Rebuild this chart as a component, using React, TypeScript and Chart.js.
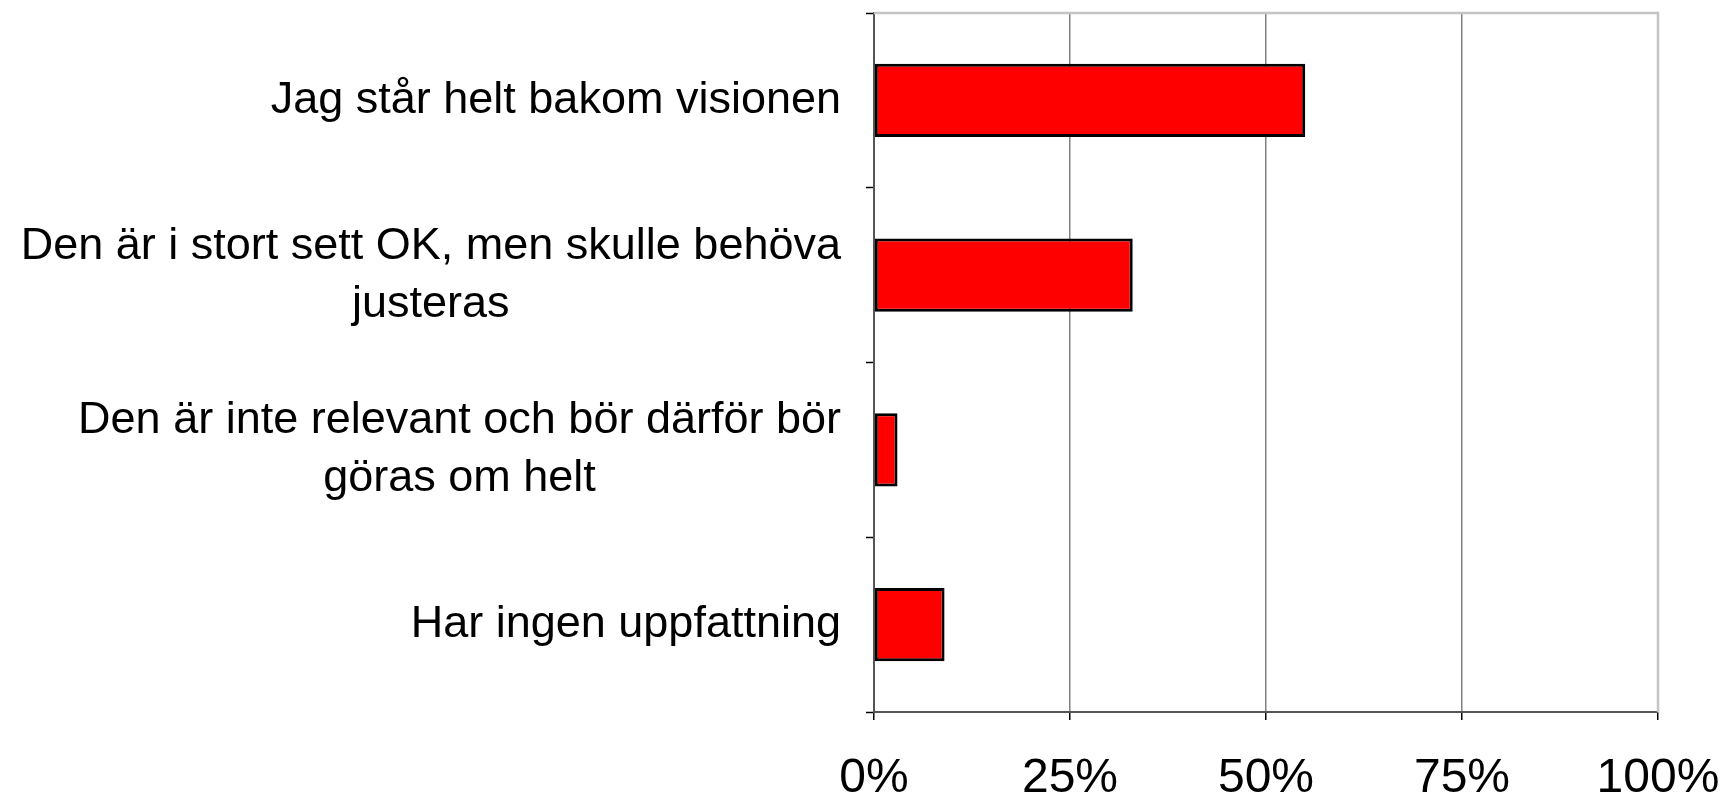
import React, { useEffect, useRef } from "react";
import { Chart, registerables } from "chart.js";

Chart.register(...registerables);

const categories: string[][] = [
  ["Jag står helt bakom visionen"],
  ["Den är i stort sett OK, men skulle behöva", "justeras"],
  ["Den är inte relevant och bör därför bör", "göras om helt"],
  ["Har ingen uppfattning"],
];
const values: number[] = [55, 33, 3, 9];
const xTicks: number[] = [0, 25, 50, 75, 100];

const FONT = '"Liberation Sans", Arial, sans-serif';

const borderPlugin = {
  id: "plotBorder",
  beforeDatasetsDraw(chart: any) {
    const { ctx, chartArea } = chart;
    ctx.save();
    ctx.strokeStyle = "#c4c4c4";
    ctx.lineWidth = 2.5;
    ctx.beginPath();
    ctx.moveTo(chartArea.left, chartArea.top);
    ctx.lineTo(chartArea.right, chartArea.top);
    ctx.lineTo(chartArea.right, chartArea.bottom);
    ctx.stroke();
    ctx.restore();
  },
};

const labelPlugin = {
  id: "catLabels",
  afterDraw(chart: any) {
    const { ctx } = chart;
    const yScale = chart.scales.y;
    const rightEdge = 841;
    const lineH = 58;
    ctx.save();
    ctx.font = `45px ${FONT}`;
    ctx.fillStyle = "#000";
    ctx.textAlign = "center";
    ctx.textBaseline = "middle";
    categories.forEach((lines, i) => {
      const yc = yScale.getPixelForValue(i);
      const maxW = Math.max(...lines.map((l) => ctx.measureText(l).width));
      const cx = rightEdge - maxW / 2;
      lines.forEach((l, j) => {
        ctx.fillText(l, cx, yc + (j - (lines.length - 1) / 2) * lineH);
      });
    });
    ctx.restore();
  },
};

export default function App() {
  const ref = useRef<HTMLCanvasElement>(null);
  useEffect(() => {
    if (!ref.current) return;
    const chart = new Chart(ref.current, {
      type: "bar",
      data: {
        labels: categories.map((c) => c.join(" ")),
        datasets: [
          {
            data: values,
            backgroundColor: "#ff0000",
            borderColor: "#000000",
            borderWidth: 3,
            borderSkipped: false,
            barPercentage: 0.42,
            categoryPercentage: 1,
          },
        ],
      },
      options: {
        indexAxis: "y",
        animation: false,
        responsive: false,
        layout: { padding: { left: 866, right: 65, top: 13, bottom: 0 } },
        plugins: { legend: { display: false }, tooltip: { enabled: false } },
        scales: {
          x: {
            min: 0,
            max: 100,
            afterBuildTicks: (scale: any) => {
              scale.ticks = xTicks.map((v) => ({ value: v }));
            },
            afterFit: (scale: any) => {
              scale.height = 84;
              scale.paddingRight = 0;
              scale.paddingLeft = 0;
            },
            border: { color: "#555", width: 2 },
            grid: {
              color: (c: any) => (c.tick && c.tick.value === 100 ? "rgba(0,0,0,0)" : "#808080"),
              lineWidth: 1.5,
              tickColor: "#000",
              tickLength: 8,
              tickWidth: 1.5,
            },
            ticks: {
              color: "#000",
              font: { family: FONT, size: 48 },
              padding: 30,
              maxRotation: 0,
              callback: (v: any) => `${v}%`,
            },
          },
          y: {
            afterFit: (scale: any) => {
              scale.width = 8;
            },
            border: { color: "#555", width: 2 },
            grid: {
              drawOnChartArea: false,
              offset: true,
              tickColor: "#000",
              tickLength: 8,
              tickWidth: 1.5,
            },
            ticks: { display: false },
          },
        },
      },
      plugins: [borderPlugin, labelPlugin],
    });
    return () => chart.destroy();
  }, []);
  return (
    <div style={{ position: "fixed", left: 0, top: 0, width: 1723, height: 796, background: "#fff" }}>
      <canvas ref={ref} width={1723} height={796} style={{ display: "block" }} />
    </div>
  );
}
